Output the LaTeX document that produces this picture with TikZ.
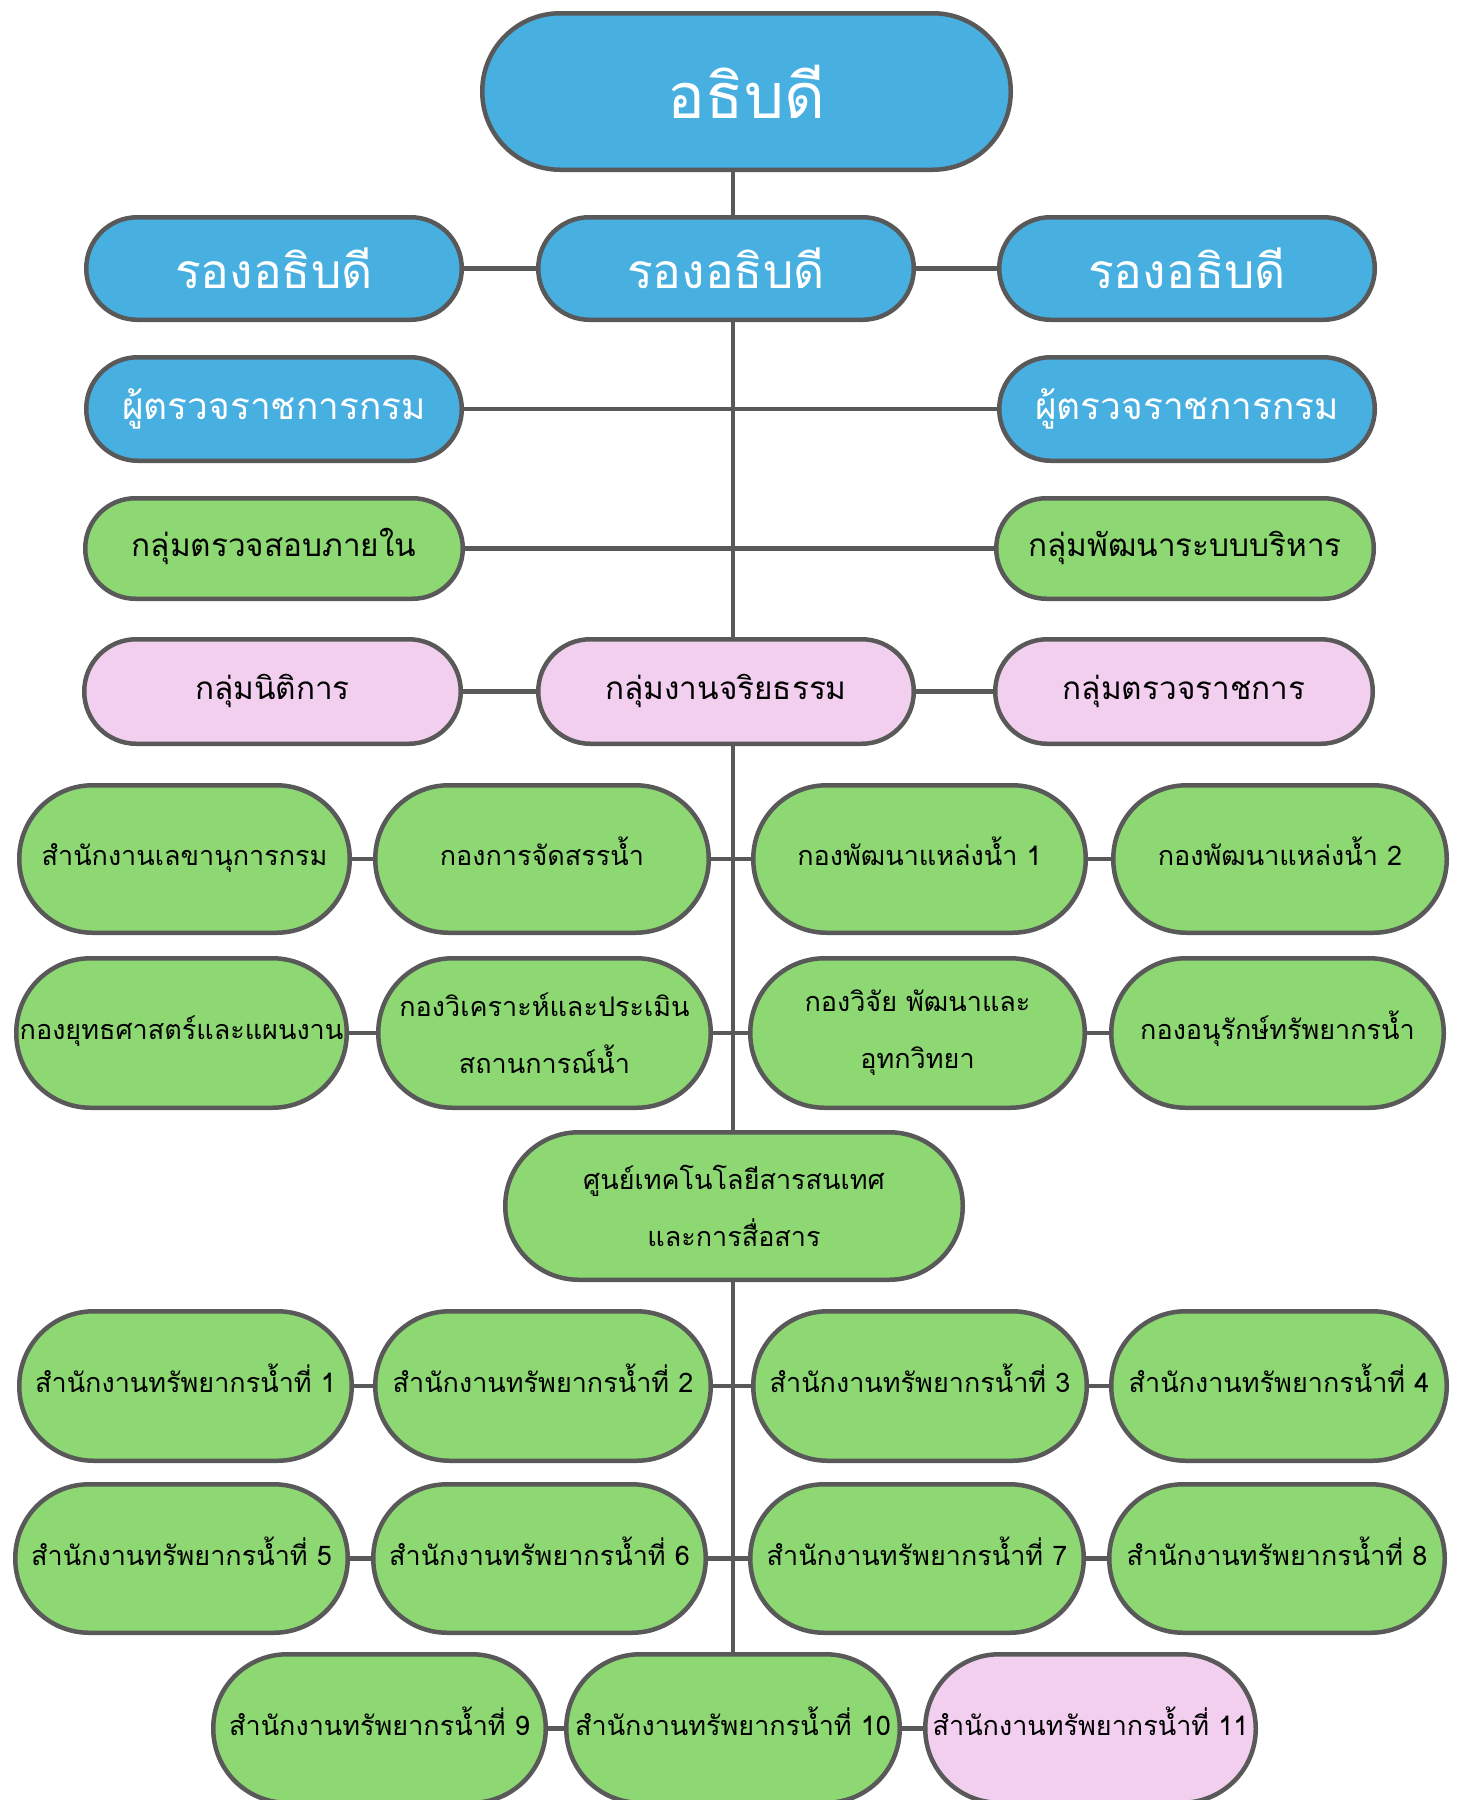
\documentclass[tikz,border=0pt]{standalone}
\usepackage{fontspec}
\newfontfamily\thai[Script=Thai]{Loma}
\usetikzlibrary{backgrounds}
\definecolor{bord}{RGB}{89,89,89}
\definecolor{cblue}{RGB}{72,175,225}
\definecolor{cgreen}{RGB}{142,216,115}
\definecolor{cpink}{RGB}{242,207,238}
\begin{document}
\begin{tikzpicture}[x=1pt,y=-1pt,
  box/.style={draw=bord, line width=4.5pt, inner sep=0pt, align=center},
  wh/.style n args={3}{minimum width=#1pt-4.5pt, minimum height=#2pt-4.5pt, rounded corners=#3pt},
  bluebox/.style={box, fill=cblue, text=white, font=\thai\fontsize{48}{54}\selectfont},
  greenbox/.style={box, fill=cgreen, text=black, font=\thai\fontsize{27}{57}\selectfont},
  pinkbox/.style={box, fill=cpink, text=black, font=\thai\fontsize{27}{57}\selectfont},
  one/.style={text height=19pt, text depth=5.5pt},
  grpfont/.style={font=\thai\fontsize{31.5}{40}\selectfont, text height=22pt, text depth=7pt},
  link/.style={draw=bord, line width=4.5pt},
  trunk/.style={draw=bord, line width=4pt}
]
\useasboundingbox (0,0) rectangle (1461,1800);
% top
\node[bluebox, wh={533}{161}{78}, font=\thai\fontsize{63}{70}\selectfont] (top) at (746.5,91.5) {อธิบดี};
% row 2
\node[bluebox, wh={380}{107}{51}] (r2l) at (274,268.5) {รองอธิบดี};
\node[bluebox, wh={380}{107}{51}] (r2m) at (726,268.5) {รองอธิบดี};
\node[bluebox, wh={380}{107}{51}] (r2r) at (1187,268.5) {รองอธิบดี};
% row 3
\node[bluebox, wh={380}{108}{51.5}, font=\thai\fontsize{37}{44}\selectfont] (r3l) at (274,409) {ผู้ตรวจราชการกรม};
\node[bluebox, wh={380}{108}{51.5}, font=\thai\fontsize{37}{44}\selectfont] (r3r) at (1187,409) {ผู้ตรวจราชการกรม};
% row 4
\node[greenbox, grpfont, wh={382}{105}{50}] (r4l) at (274,548.5) {กลุ่มตรวจสอบภายใน};
\node[greenbox, grpfont, wh={382}{105}{50}] (r4r) at (1185,548.5) {กลุ่มพัฒนาระบบบริหาร};
% row 5
\node[pinkbox, grpfont, wh={381}{109}{52}] (r5l) at (272.5,691.5) {กลุ่มนิติการ};
\node[pinkbox, grpfont, wh={380}{109}{52}] (r5m) at (726,691.5) {กลุ่มงานจริยธรรม};
\node[pinkbox, grpfont, wh={382}{109}{52}] (r5r) at (1184,691.5) {กลุ่มตรวจราชการ};
% row 6
\node[greenbox, one, wh={335}{152}{73.5}] (r6a) at (184.5,859) {สำนักงานเลขานุการกรม};
\node[greenbox, one, wh={338}{152}{73.5}] (r6b) at (542,859) {กองการจัดสรรน้ำ};
\node[greenbox, one, wh={337}{152}{73.5}] (r6c) at (919.5,859) {กองพัฒนาแหล่งน้ำ 1};
\node[greenbox, one, wh={338}{152}{73.5}] (r6d) at (1280,859) {กองพัฒนาแหล่งน้ำ 2};
% row 7
\node[greenbox, one, wh={335}{154}{74.5}] (r7a) at (181.5,1033) {กองยุทธศาสตร์และแผนงาน};
\node[greenbox, wh={337}{154}{74.5}] (r7b) at (544.5,1033) {กองวิเคราะห์และประเมิน\\สถานการณ์น้ำ};
\node[greenbox, wh={339}{154}{74.5}] (r7c) at (917.5,1033) {กองวิจัย พัฒนาและ\\อุทกวิทยา};
\node[greenbox, one, wh={337}{154}{74.5}] (r7d) at (1277.5,1033) {กองอนุรักษ์ทรัพยากรน้ำ};
% row 8
\node[greenbox, wh={462}{152}{73.5}] (r8) at (734,1206) {ศูนย์เทคโนโลยีสารสนเทศ\\และการสื่อสาร};
% row 9
\node[greenbox, one, wh={337}{154}{74.5}] (r9a) at (185.5,1386) {สำนักงานทรัพยากรน้ำที่ 1};
\node[greenbox, one, wh={340}{154}{74.5}] (r9b) at (543,1386) {สำนักงานทรัพยากรน้ำที่ 2};
\node[greenbox, one, wh={338}{154}{74.5}] (r9c) at (920,1386) {สำนักงานทรัพยากรน้ำที่ 3};
\node[greenbox, one, wh={340}{154}{74.5}] (r9d) at (1279,1386) {สำนักงานทรัพยากรน้ำที่ 4};
% row 10
\node[greenbox, one, wh={337}{153}{74}] (r10a) at (181.5,1558.5) {สำนักงานทรัพยากรน้ำที่ 5};
\node[greenbox, one, wh={337}{153}{74}] (r10b) at (539.5,1558.5) {สำนักงานทรัพยากรน้ำที่ 6};
\node[greenbox, one, wh={338}{153}{74}] (r10c) at (917,1558.5) {สำนักงานทรัพยากรน้ำที่ 7};
\node[greenbox, one, wh={340}{153}{74}] (r10d) at (1277,1558.5) {สำนักงานทรัพยากรน้ำที่ 8};
% row 11
\node[greenbox, one, wh={337}{153}{74}] (r11a) at (379.5,1728.5) {สำนักงานทรัพยากรน้ำที่ 9};
\node[greenbox, one, wh={338}{153}{74}] (r11b) at (733,1728.5) {สำนักงานทรัพยากรน้ำที่ 10};
\node[pinkbox, one, wh={335}{153}{74}] (r11c) at (1090.5,1728.5) {สำนักงานทรัพยากรน้ำที่ 11};
\coordinate (tx) at (733,0);
\begin{scope}[on background layer]
\draw[trunk] (top.south -| tx) -- (r2m.north -| tx);
\draw[trunk] (r2m.south -| tx) -- (r5m.north -| tx);
\draw[trunk] (r5m.south -| tx) -- (r8.north -| tx);
\draw[trunk] (r8.south -| tx) -- (r11b.north -| tx);
\draw[link] (r2l.east) -- (r2m.west);
\draw[link] (r2m.east) -- (r2r.west);
\draw[link] (r3l.east) -- (r3r.west);
\draw[link] (r4l.east) -- (r4r.west);
\draw[link] (r5l.east) -- (r5m.west);
\draw[link] (r5m.east) -- (r5r.west);
\foreach \r in {r6,r7,r9,r10}{
  \draw[link] (\r a.east) -- (\r b.west);
  \draw[link] (\r b.east) -- (\r c.west);
  \draw[link] (\r c.east) -- (\r d.west);
}
\draw[link] (r11a.east) -- (r11b.west);
\draw[link] (r11b.east) -- (r11c.west);
\end{scope}
\end{tikzpicture}
\end{document}
